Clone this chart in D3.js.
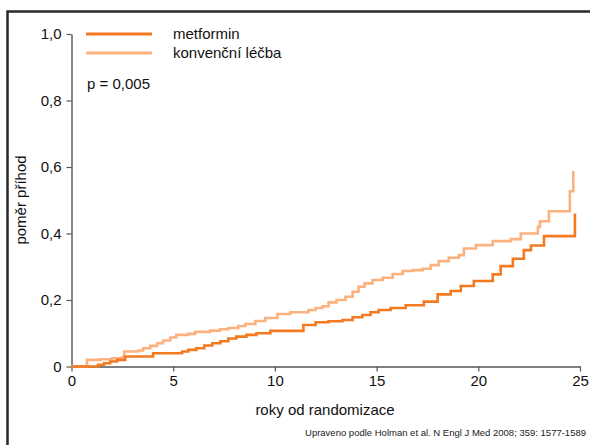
<!DOCTYPE html>
<html><head><meta charset="utf-8">
<script src="https://cdn.jsdelivr.net/npm/d3@7"></script>
<style>
html,body{margin:0;padding:0;background:#fff;}
svg{display:block;}
text{font-family:"Liberation Sans",Arial,Helvetica,sans-serif;}
</style></head>
<body>
<svg id="chart" width="590" height="445"></svg>
<script>
// ---- data ----
const xTicks = [0, 5, 10, 15, 20, 25];
const yTicks = [0, 0.2, 0.4, 0.6, 0.8, 1.0];
const yTickLabels = ["0", "0,2", "0,4", "0,6", "0,8", "1,0"];
const seriesNames = ["metformin", "konvenční léčba"];
const metforminT = [0,1.3,1.6,1.9,2.24,2.64,4.01,5.44,5.74,6.13,6.53,6.92,7.32,7.71,8.1,8.6,9.09,9.78,11.4,12.0,12.64,13.32,13.82,14.3,14.7,15.1,15.69,16.43,17.32,18.0,18.64,19.14,19.78,20.71,21.1,21.7,22.24,22.59,23.23,24.75];
const metforminV = [0,0.005,0.01,0.015,0.02,0.03,0.04,0.045,0.05,0.055,0.063,0.07,0.076,0.084,0.09,0.095,0.1,0.107,0.125,0.133,0.136,0.14,0.148,0.155,0.163,0.17,0.176,0.184,0.195,0.217,0.227,0.242,0.257,0.277,0.302,0.324,0.35,0.364,0.392,0.46];
const conventionalT = [0,0.76,1.4,2.0,2.49,2.59,3.28,3.52,3.87,4.21,4.5,4.85,5.15,5.74,6.08,6.82,7.3,7.71,8.2,8.55,9.04,9.53,10.12,10.76,11.65,12.0,12.34,12.64,13.03,13.47,13.82,14.11,14.41,14.8,15.3,15.79,16.28,16.77,17.27,17.66,18.05,18.55,19.04,19.29,19.88,20.71,21.6,22.09,22.93,23.03,23.47,24.5,24.67];
const conventionalV = [0,0.02,0.022,0.025,0.028,0.045,0.048,0.055,0.062,0.07,0.078,0.087,0.095,0.098,0.104,0.108,0.112,0.116,0.122,0.128,0.137,0.146,0.158,0.163,0.17,0.176,0.181,0.193,0.2,0.21,0.225,0.24,0.25,0.26,0.267,0.278,0.287,0.29,0.294,0.305,0.317,0.327,0.335,0.355,0.365,0.377,0.383,0.40,0.42,0.437,0.467,0.527,0.588];
const pText = "p = 0,005";
const xTitle = "roky od randomizace";
const yTitle = "poměr příhod";
const sourceText = "Upraveno podle Holman et al. N Engl J Med 2008; 359: 1577-1589";

// ---- drawing ----
const svg = d3.select("#chart");
const colDark = "#f47a22", colLight = "#fcb27e";

// frame
svg.append("path").attr("d","M7.5,450 L7.5,11.5 L600,11.5")
  .attr("fill","none").attr("stroke","#2a2a2a").attr("stroke-width",2.5);

const x = d3.scaleLinear().domain([0,25]).range([71.5,580]);
const y = d3.scaleLinear().domain([0,1]).range([366.5,34]);

const gx = svg.append("g").attr("transform",`translate(0,${y(0)})`)
  .call(d3.axisBottom(x).tickValues(xTicks).tickSize(5).tickSizeOuter(0).tickPadding(4));
const gy = svg.append("g").attr("transform",`translate(${x(0)},0)`)
  .call(d3.axisLeft(y).tickValues(yTicks).tickFormat((d,i)=>yTickLabels[i]).tickSize(5).tickSizeOuter(0).tickPadding(5));
[gx,gy].forEach(g=>{
  g.select(".domain").attr("stroke","#555").attr("stroke-width",1.4);
  g.selectAll(".tick line").attr("stroke","#555").attr("stroke-width",1.2);
  g.selectAll(".tick text").attr("fill","#111").style("font-size","15px")
   .style("font-family","'Liberation Sans',Arial,sans-serif");
});

const line = d3.line().x(d=>x(d[0])).y(d=>y(d[1])).curve(d3.curveStepAfter);
const conv = conventionalT.map((t,i)=>[t,conventionalV[i]]);
const met = metforminT.map((t,i)=>[t,metforminV[i]]);
svg.append("path").datum(conv).attr("d",line).attr("fill","none")
  .attr("stroke",colLight).attr("stroke-width",2.6);
svg.append("path").datum(met).attr("d",line).attr("fill","none")
  .attr("stroke",colDark).attr("stroke-width",2.6);

// legend
const leg = [[seriesNames[0],colDark,34],[seriesNames[1],colLight,53]];
leg.forEach(([n,c,yy])=>{
  svg.append("line").attr("x1",86).attr("x2",152).attr("y1",yy).attr("y2",yy)
    .attr("stroke",c).attr("stroke-width",3);
  svg.append("text").attr("x",173).attr("y",yy+5).attr("font-size",15).attr("fill","#111").text(n);
});
svg.append("text").attr("x",87).attr("y",89).attr("font-size",15).attr("fill","#111").text(pText);

svg.append("text").attr("x",325).attr("y",415).attr("text-anchor","middle")
  .attr("font-size",15).attr("fill","#111").text(xTitle);
svg.append("text").attr("transform","translate(26,200) rotate(-90)").attr("text-anchor","middle")
  .attr("font-size",15).attr("fill","#111").text(yTitle);
svg.append("text").attr("x",586).attr("y",436).attr("text-anchor","end")
  .attr("font-size",9.5).attr("fill","#222").text(sourceText);
</script>
</body></html>
